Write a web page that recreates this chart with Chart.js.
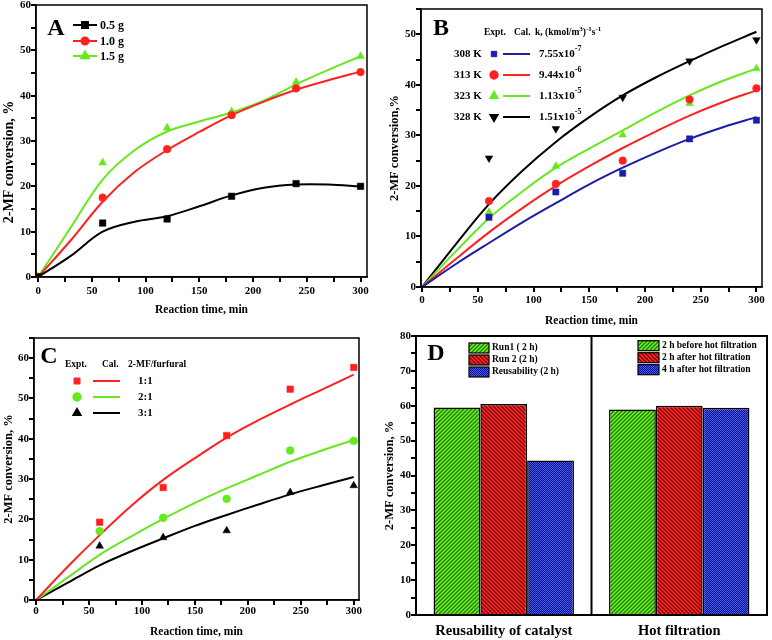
<!DOCTYPE html>
<html><head><meta charset="utf-8">
<script src="https://cdn.jsdelivr.net/npm/chart.js@4/dist/chart.umd.min.js"></script>
<style>
html,body{margin:0;padding:0;background:#fff;width:772px;height:640px;overflow:hidden;position:relative;}
canvas{position:absolute;}
</style></head><body>
<canvas id="cA"></canvas><canvas id="cB"></canvas><canvas id="cC"></canvas><canvas id="cD"></canvas>
<script>
// ---------- DATA ----------
const timeCurve = [0, 30, 60, 90, 120, 150, 180, 210, 240, 270, 300];
const timeExpt = [60, 120, 180, 240, 300];
const timeExptA = [0, 60, 120, 180, 240, 300];

// Panel A
const aSeries = ['0.5 g', '1.0 g', '1.5 g'];
const aExpt05 = [0, 11.9, 12.8, 17.8, 20.6, 20.0];
const aExpt10 = [0, 17.5, 28.2, 35.7, 41.6, 45.2];
const aExpt15 = [0, 25.2, 32.9, 36.5, 43.0, 48.7];
const aFit05 = [0, 4.6, 10.0, 12.2, 13.4, 15.6, 18.0, 19.7, 20.4, 20.4, 20.0];
const aFit10 = [0, 8.0, 16.6, 23.2, 28.0, 32.0, 35.7, 38.7, 41.3, 43.4, 45.3];
const aFit15 = [0, 10.8, 21.5, 28.0, 32.1, 34.3, 36.3, 38.9, 42.5, 45.7, 48.7];

// Panel B
const bTemps = ['308 K', '313 K', '323 K', '328 K'];
const bK = ['7.55x10', '9.44x10', '1.13x10', '1.51x10'];
const bKExp = ['-7', '-6', '-5', '-5'];
const bExpt308 = [13.8, 18.8, 22.5, 29.3, 33.0];
const bExpt313 = [17.0, 20.4, 25.0, 37.1, 39.3];
const bExpt323 = [14.8, 23.9, 30.1, 36.3, 43.2];
const bExpt328 = [25.5, 31.3, 37.5, 44.7, 48.9];
const bFit308 = [0, 4.5, 8.7, 12.8, 16.6, 20.3, 23.6, 26.6, 29.3, 31.6, 33.6];
const bFit313 = [0, 5.5, 10.8, 15.6, 20.0, 23.9, 27.5, 30.8, 33.9, 36.6, 38.9];
const bFit323 = [0, 7.0, 13.6, 18.9, 23.6, 27.4, 31.0, 34.6, 37.9, 40.8, 43.2];
const bFit328 = [0, 8.4, 16.4, 23.0, 28.7, 33.6, 37.9, 41.5, 44.7, 47.7, 50.5];

// Panel C
const cRatios = ['1:1', '2:1', '3:1'];
const cExpt11 = [19.3, 27.9, 40.8, 52.3, 57.7];
const cExpt21 = [17.1, 20.4, 25.1, 37.1, 39.5];
const cExpt31 = [13.4, 15.5, 17.2, 26.7, 28.4];
const cFit11 = [0, 8.3, 16.1, 23.4, 29.8, 35.2, 40.3, 44.6, 48.5, 52.2, 55.9];
const cFit21 = [0, 5.6, 11.2, 15.8, 20.1, 24.1, 27.7, 31.0, 34.3, 37.1, 39.7];
const cFit31 = [0, 4.3, 8.6, 12.1, 15.3, 18.4, 21.1, 23.7, 26.2, 28.4, 30.5];

// Panel D
const dGroups = ['Reusability of catalyst', 'Hot filtration'];
const dReuseLabels = ['Run1 ( 2 h)', 'Run 2 (2 h)', 'Reusability (2 h)'];
const dHotLabels = ['2 h before hot filtration', '2 h after hot filtration', '4 h after hot filtration'];
const dBar1 = [59.5, 58.9];
const dBar2 = [60.5, 60.0];
const dBar3 = [44.3, 59.4];

// ---------- STYLE ----------
const SER = "'Liberation Serif','Times New Roman',serif";
const RED = '#ff2020', GREEN = '#66e81e', BLUE = '#1c1ca8', BLACK = '#000';
const fnt = (s) => 'bold ' + s + 'px ' + SER;
const xy = (xs, ys) => xs.map((x, i) => ({x: x, y: ys[i]}));

function hatch(bg, fg, dir) {
  const s = 4, c = document.createElement('canvas'); c.width = s; c.height = s;
  const g = c.getContext('2d');
  g.fillStyle = bg; g.fillRect(0, 0, s, s);
  g.strokeStyle = fg; g.lineWidth = 1.3; g.beginPath();
  if (dir > 0) { g.moveTo(-1, s + 1); g.lineTo(s + 1, -1); g.moveTo(-1, 1); g.lineTo(1, -1); g.moveTo(s - 1, s + 1); g.lineTo(s + 1, s - 1); }
  else { g.moveTo(-1, -1); g.lineTo(s + 1, s + 1); g.moveTo(-1, s - 1); g.lineTo(1, s + 1); g.moveTo(s - 1, -1); g.lineTo(s + 1, 1); }
  g.stroke();
  return g.createPattern(c, 'repeat');
}
function dots(bg, fg) {
  const c = document.createElement('canvas'); c.width = 2; c.height = 2;
  const g = c.getContext('2d');
  g.fillStyle = bg; g.fillRect(0, 0, 2, 2);
  g.fillStyle = fg; g.fillRect(0, 0, 1, 1); g.fillRect(1, 1, 1, 1);
  return g.createPattern(c, 'repeat');
}
const patGreen = hatch('#6cf52a', '#237a00', 1);
const patRed = hatch('#ff2a2a', '#7a0000', -1);
const patBlue = dots('#3a5cff', '#10107a');

function linAxis(min, max, step, every, pad, title, tsize) {
  return {
    type: 'linear', min: min, max: max,
    border: {display: true, color: '#000', width: 1.5},
    grid: {display: true, drawOnChartArea: false, drawTicks: true, tickLength: 5, color: '#000', tickColor: '#000', tickWidth: 2, lineWidth: 2},
    ticks: {stepSize: step, includeBounds: false, autoSkip: false, maxTicksLimit: 100, maxRotation: 0, color: '#000',
      font: {family: SER, weight: 'bold', size: 11}, padding: pad,
      callback: (v) => (Math.round(v) % every === 0 ? String(v) : '')},
    title: {display: true, text: title, color: '#000', padding: 0, font: {family: SER, weight: 'bold', size: tsize}}
  };
}

function frame(lw) {
  return {id: 'frame', afterDraw(chart) {
    const {ctx, chartArea: a} = chart;
    ctx.save(); ctx.strokeStyle = '#000'; ctx.lineWidth = lw;
    ctx.strokeRect(a.left, a.top, a.right - a.left, a.bottom - a.top);
    ctx.restore();
  }};
}
// tick marks at each tick of the library's scales, drawn last
function tickLayer(axes) {
  return {id: 'tickLayer', afterDraw(chart) {
    const ctx = chart.ctx, a = chart.chartArea;
    for (let k = 0; k < 4; k++) ctx.restore();
    ctx.save();
    ctx.setTransform(1, 0, 0, 1, 0, 0);
    ctx.globalAlpha = 1; ctx.globalCompositeOperation = 'source-over';
    ctx.fillStyle = '#000';
    for (let k = 0; k < axes.length; k++) {
      const id = axes[k], s = chart.scales[id], n = s.ticks.length;
      for (let i = 0; i < n; i++) {
        const lab = s.ticks[i].label;
        const len = (lab !== '' && lab !== undefined) ? 5 : 3;
        const p = Math.round(s.getPixelForTick(i));
        if (id === 'x') ctx.fillRect(p - 1, Math.round(a.bottom), 2, len);
        else ctx.fillRect(Math.round(a.left) - len, p - 1, len, 2);
      }
    }
    ctx.restore();
  }};
}
function overlay(rect, fn) {
  return {id: 'overlay', afterDraw(chart) {
    const ctx = chart.ctx; ctx.save(); ctx.translate(-rect.x, -rect.y);
    ctx.textBaseline = 'middle'; ctx.fillStyle = '#000'; fn(ctx, chart, rect); ctx.restore();
  }};
}
function letter(ctx, t, x, y) { ctx.font = fnt(24); ctx.textAlign = 'center'; ctx.fillStyle = '#000'; ctx.fillText(t, x, y); ctx.textAlign = 'left'; }
function rich(ctx, x, y, parts, size) {
  let cx = x; ctx.textAlign = 'left';
  for (const [t, sup] of parts) {
    const s = sup ? Math.round(size * 0.72) : size;
    ctx.font = fnt(s); ctx.fillText(t, cx, sup ? y - size * 0.42 : y);
    cx += ctx.measureText(t).width;
  }
}
function marker(ctx, style, rot, r, color, x, y) {
  ctx.fillStyle = color; ctx.strokeStyle = color;
  Chart.helpers.drawPoint(ctx, {pointStyle: style, rotation: rot, radius: r, borderWidth: 0.5}, x, y);
}
function seg(ctx, x1, x2, y, color) {
  ctx.strokeStyle = color; ctx.lineWidth = 2; ctx.beginPath(); ctx.moveTo(x1, y); ctx.lineTo(x2, y); ctx.stroke();
}

function build(id, rect, area, yW, xH, cfg, extra) {
  const c = document.getElementById(id);
  c.width = rect.w; c.height = rect.h;
  c.style.left = rect.x + 'px'; c.style.top = rect.y + 'px';
  c.style.width = rect.w + 'px'; c.style.height = rect.h + 'px';
  const o = cfg.options;
  o.responsive = false; o.animation = false; o.devicePixelRatio = 1;
  o.layout = {padding: {left: area.l - rect.x - yW, top: area.t - rect.y, right: rect.x + rect.w - area.r, bottom: rect.y + rect.h - area.b - xH}};
  o.plugins = {legend: {display: false}, tooltip: {enabled: false}};
  o.scales.x.afterFit = (s) => { s.height = xH; };
  o.scales.y.afterFit = (s) => { s.width = yW; };
  cfg.plugins = extra;
  return new Chart(c, cfg);
}

function curve(data, color) {
  return {data: data, showLine: true, borderColor: color, borderWidth: 2, pointRadius: 0, tension: 0.35,
    fill: false, order: 2};
}
function pts(data, color, style, r, rot) {
  return {data: data, showLine: false, pointStyle: style, pointRadius: r, pointRotation: rot || 0,
    pointBackgroundColor: color, pointBorderColor: color, pointBorderWidth: 0.5, order: 1};
}

// ---------- PANEL A ----------
const rA = {x: 0, y: -10, w: 386, h: 340};
build('cA', rA, {l: 36, t: 5, r: 367, b: 277}, 35, 40, {
  type: 'scatter',
  data: {datasets: [
    curve(xy(timeCurve, aFit05), BLACK), curve(xy(timeCurve, aFit10), RED), curve(xy(timeCurve, aFit15), GREEN),
    pts(xy(timeExptA, aExpt05), BLACK, 'rect', 4.6), pts(xy(timeExptA, aExpt10), RED, 'circle', 3.8), pts(xy(timeExptA, aExpt15), GREEN, 'triangle', 4.6)
  ]},
  options: {scales: {
    x: linAxis(-2, 306, 25, 50, 3, 'Reaction time, min', 11.5),
    y: linAxis(0, 60, 5, 10, 0, '2-MF conversion, %            ', 14)
  }}
}, [frame(1.5), overlay(rA, (ctx) => {
  letter(ctx, 'A', 56, 29);
  const cols = [BLACK, RED, GREEN], st = [['rect', 4.2], ['circle', 3.6], ['triangle', 4.4]], ys = [25, 41, 56];
  for (let i = 0; i < 3; i++) {
    seg(ctx, 73, 97, ys[i], cols[i]); marker(ctx, st[i][0], 0, st[i][1], cols[i], 85, ys[i]);
    ctx.fillStyle = '#000'; ctx.font = fnt(12); ctx.textAlign = 'left'; ctx.fillText(aSeries[i], 100, ys[i] + 1);
  }
}), tickLayer(['x', 'y'])]);

// ---------- PANEL B ----------
const rB = {x: 386, y: -10, w: 386, h: 345};
build('cB', rB, {l: 421, t: 9, r: 762, b: 287}, 34, 41, {
  type: 'scatter',
  data: {datasets: [
    curve(xy(timeCurve, bFit308), BLUE), curve(xy(timeCurve, bFit313), RED), curve(xy(timeCurve, bFit323), GREEN), curve(xy(timeCurve, bFit328), BLACK),
    pts(xy(timeExpt, bExpt308), BLUE, 'rect', 4.4), pts(xy(timeExpt, bExpt313), RED, 'circle', 3.8),
    pts(xy(timeExpt, bExpt323), GREEN, 'triangle', 4.4), pts(xy(timeExpt, bExpt328), BLACK, 'triangle', 4.4, 180)
  ]},
  options: {scales: {
    x: linAxis(-1, 305, 25, 50, 1.5, 'Reaction time, min', 11.5),
    y: linAxis(0, 55, 5, 10, 0, '2-MF conversion,%', 12.5)
  }}
}, [frame(1.5), overlay(rB, (ctx) => {
  letter(ctx, 'B', 441, 29);
  ctx.font = fnt(9.5); ctx.textAlign = 'left';
  ctx.fillText('Expt.', 484, 33); ctx.fillText('Cal.', 514, 33);
  rich(ctx, 535, 33, [['k, (kmol/m', 0], ['3', 1], [')', 0], ['-1', 1], ['s', 0], ['-1', 1]], 9.5);
  const cols = [BLUE, RED, GREEN, BLACK], st = [['rect', 0, 3.8], ['circle', 0, 3.7], ['triangle', 0, 4], ['triangle', 180, 4]];
  const ys = [54, 75, 96, 117];
  for (let i = 0; i < 4; i++) {
    ctx.fillStyle = '#000'; ctx.font = fnt(11); ctx.textAlign = 'left'; ctx.fillText(bTemps[i], 454, ys[i]);
    marker(ctx, st[i][0], st[i][1], st[i][2], cols[i], 494, ys[i]);
    seg(ctx, 503, 530, ys[i], cols[i]);
    ctx.fillStyle = '#000'; rich(ctx, 539, ys[i], [[bK[i], 0], [bKExp[i], 1]], 11);
  }
}), tickLayer(['x', 'y'])]);

// ---------- PANEL C ----------
const rC = {x: 0, y: 320, w: 386, h: 320};
build('cC', rC, {l: 34, t: 338, r: 359, b: 600}, 33, 39, {
  type: 'scatter',
  data: {datasets: [
    curve(xy(timeCurve, cFit11), RED), curve(xy(timeCurve, cFit21), GREEN), curve(xy(timeCurve, cFit31), BLACK),
    pts(xy(timeExpt, cExpt11), RED, 'rect', 4.6), pts(xy(timeExpt, cExpt21), GREEN, 'circle', 3.9), pts(xy(timeExpt, cExpt31), BLACK, 'triangle', 4.4)
  ]},
  options: {scales: {
    x: linAxis(-2, 305, 25, 50, 0, 'Reaction time, min', 11.5),
    y: linAxis(0, 65, 5, 10, 0, '2-MF conversion, %', 12.5)
  }}
}, [frame(1.5), overlay(rC, (ctx) => {
  letter(ctx, 'C', 49, 357);
  ctx.font = fnt(9.5); ctx.textAlign = 'left';
  ctx.fillText('Expt.', 65, 365); ctx.fillText('Cal.', 102, 365); ctx.fillText('2-MF/furfural', 128, 365);
  const cols = [RED, GREEN, BLACK], st = [['rect', 4.2], ['circle', 3.7], ['triangle', 4.1]], ys = [381, 397, 413];
  for (let i = 0; i < 3; i++) {
    marker(ctx, st[i][0], 0, st[i][1], cols[i], 77, ys[i]);
    seg(ctx, 93, 120, ys[i], cols[i]);
    ctx.fillStyle = '#000'; ctx.font = fnt(11); ctx.textAlign = 'left'; ctx.fillText(cRatios[i], 138, ys[i]);
  }
}), tickLayer(['x', 'y'])]);

// ---------- PANEL D ----------
const rD = {x: 376, y: 325, w: 396, h: 315};
function barSet(data, pat) {
  return {data: data, backgroundColor: pat, borderColor: '#000', borderWidth: 1.5, categoryPercentage: 0.8, barPercentage: 1.0};
}
const yD = linAxis(0, 80, 5, 10, 0, '2-MF conversion, %', 12.5);
yD.border.width = 2;
build('cD', rD, {l: 416, t: 336, r: 767, b: 615}, 34, 25, {
  type: 'bar',
  data: {labels: dGroups, datasets: [barSet(dBar1, patGreen), barSet(dBar2, patRed), barSet(dBar3, patBlue)]},
  options: {scales: {
    x: {type: 'category', border: {display: true, color: '#000', width: 2}, grid: {display: false, drawTicks: false},
      ticks: {color: '#000', padding: 8, font: {family: SER, weight: 'bold', size: 14.5}, maxRotation: 0}},
    y: yD
  }}
}, [frame(2), overlay(rD, (ctx, chart) => {
  const xs = chart.scales.x, a = chart.chartArea;
  const mid = (xs.getPixelForValue(0) + xs.getPixelForValue(1)) / 2 + rD.x;
  ctx.strokeStyle = '#000'; ctx.lineWidth = 2; ctx.beginPath(); ctx.moveTo(mid, a.top + rD.y); ctx.lineTo(mid, a.bottom + rD.y); ctx.stroke();
  letter(ctx, 'D', 436, 354);
  const pats = [patGreen, patRed, patBlue];
  const drawBox = (x, y, w, h, p) => { ctx.fillStyle = p; ctx.fillRect(x, y, w, h); ctx.strokeStyle = '#000'; ctx.lineWidth = 1.2; ctx.strokeRect(x, y, w, h); };
  for (let i = 0; i < 3; i++) {
    const y1 = 348 + i * 12;
    drawBox(469, y1 - 5, 20, 10, pats[i]);
    ctx.fillStyle = '#000'; ctx.font = fnt(9.5); ctx.textAlign = 'left'; ctx.fillText(dReuseLabels[i], 492, y1);
    const y2 = 345.7 + i * 12;
    drawBox(638, y2 - 5, 21, 10, pats[i]);
    ctx.fillStyle = '#000'; ctx.font = fnt(9.5); ctx.fillText(dHotLabels[i], 662, y2);
  }
}), tickLayer(['y'])]);
</script>
</body></html>
